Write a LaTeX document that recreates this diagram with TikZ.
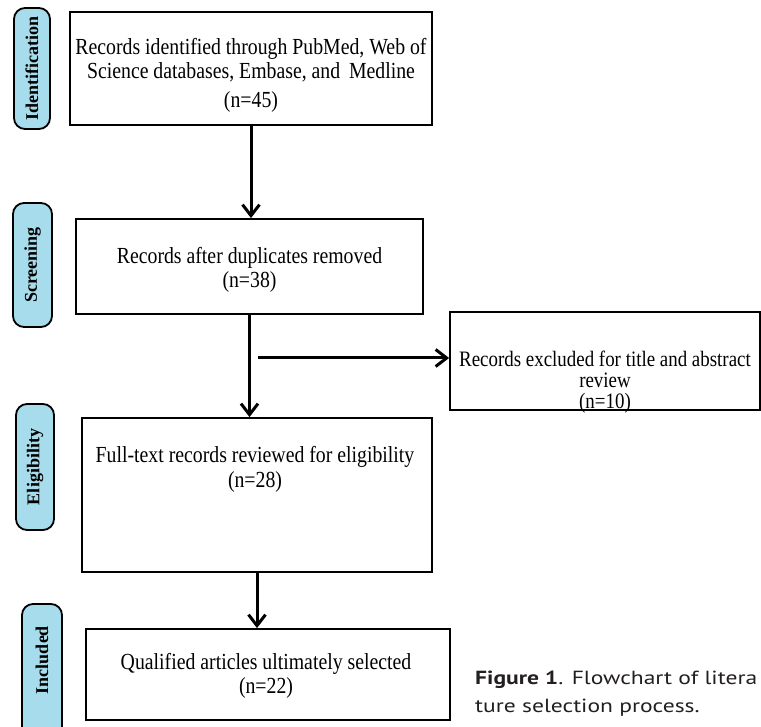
\documentclass[tikz,border=0pt]{standalone}
\usepackage{fontspec}
\setmainfont{Liberation Serif}
\newfontfamily\bxfont[FakeStretch=0.86]{Liberation Serif}
\newfontfamily\capfont[FakeStretch=1.24]{PT Sans}
\usetikzlibrary{arrows.meta}
\definecolor{pillblue}{HTML}{A6DCEB}
\definecolor{captext}{HTML}{231F20}
\begin{document}
\begin{tikzpicture}[x=1pt,y=-1pt,
  stagebox/.style={draw=black,line width=1.8pt,rectangle,inner sep=0pt},
  boxtext/.style={align=center,inner sep=0pt,font=\bxfont\fontsize{23}{24.5}\selectfont},
  pill/.style={draw=black,line width=1.8pt,fill=pillblue,rounded corners=11pt,inner sep=0pt},
  pilltext/.style={rotate=90,inner sep=0pt,font=\bfseries\fontsize{18}{20}\selectfont},
  arr/.style={line width=3pt,-{Straight Barb[length=11pt,width=17pt,line width=3pt]}}
]
\useasboundingbox (0,0) rectangle (761,727);
% stage pills
\node[pill,minimum width=36pt,minimum height=121pt] (p1) at (32,68.5) {};
\node[pilltext] (pt1) at (p1.center) {Identification};
\node[pill,minimum width=39pt,minimum height=124pt] (p2) at (32.5,265) {};
\node[pilltext] (pt2) at (p2.center) {Screening};
\node[pill,minimum width=38pt,minimum height=126pt] (p3) at (35,467) {};
\node[pilltext] (pt3) at (p3.center) {Eligibility};
\node[pill,minimum width=40pt,minimum height=140pt] (p4) at (42,674) {};
\node[pilltext] (pt4) at (42,660) {Included};
% boxes
\node[stagebox,minimum width=362pt,minimum height=113pt] (b1) at (251,68.5) {};
\node[boxtext] (t1) at (251,75) {Records identified through PubMed, Web of\\Science databases, Embase, and \,Medline\\[4pt](n=45)};
\node[stagebox,minimum width=347pt,minimum height=95pt] (b2) at (249.5,266.5) {};
\node[boxtext] (t2) at (249.5,270) {Records after duplicates removed\\(n=38)};
\node[stagebox,minimum width=310pt,minimum height=98pt] (b5) at (605,361) {};
\node[boxtext,font=\bxfont\fontsize{22}{21}\selectfont] (t5) at (605,382) {Records excluded for title and abstract\\review\\(n=10)};
\node[stagebox,minimum width=350pt,minimum height=154pt] (b3) at (257,495) {};
\node[boxtext] (t3) at (255,469.5) {Full-text records reviewed for eligibility\\(n=28)};
\node[stagebox,minimum width=364pt,minimum height=91pt] (b4) at (268,674.5) {};
\node[boxtext] (t4) at (266,676) {Qualified articles ultimately selected\\(n=22)};
% connectors
\coordinate (split) at (258,358);
\draw[arr] (b1.south) -- (b1.south |- b2.north);
\draw[arr] (b2.south) -- (b2.south |- b3.north);
\draw[arr] (split) -- (split -| b5.west);
\draw[arr] (b3.south) -- (b3.south |- b4.north);
% caption
\node[anchor=west,align=left,inner sep=0pt,text=captext,font=\capfont\fontsize{19}{28}\selectfont] (cap) at (475,694) {\textbf{Figure 1}. Flowchart of litera\\ture selection process.};
\end{tikzpicture}
\end{document}
